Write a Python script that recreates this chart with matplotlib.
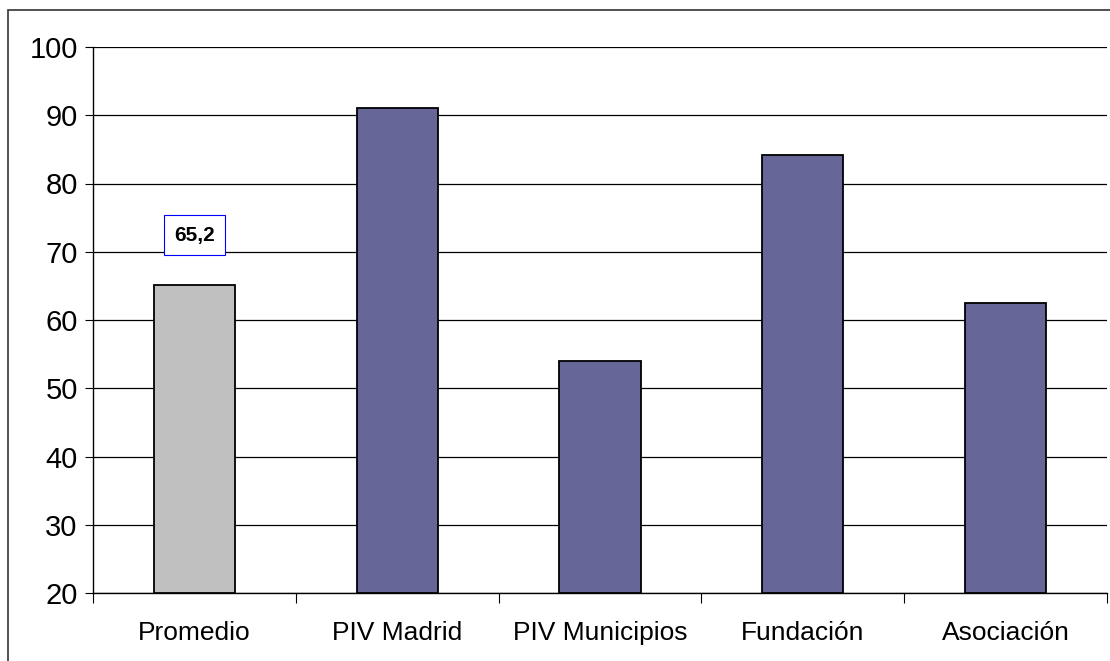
import matplotlib
matplotlib.use("Agg")
import matplotlib.pyplot as plt
from matplotlib.patches import Rectangle

categories = ["Promedio", "PIV Madrid", "PIV Municipios", "Fundación", "Asociación"]
values = [65.2, 91.1, 54.0, 84.2, 62.5]
bar_colors = ["#C0C0C0", "#666699", "#666699", "#666699", "#666699"]
yticks = [20, 30, 40, 50, 60, 70, 80, 90, 100]
label_text = "65,2"

plt.rcParams['font.family'] = ['Liberation Sans', 'DejaVu Sans']

fig = plt.figure(figsize=(11.1, 6.61), dpi=100)
W, H = 1110, 661
ax = fig.add_axes([93 / W, 1 - 593 / H, (1107 - 93) / W, (593 - 47) / H])

# outer chart frame
fig.patches.append(Rectangle((8 / W, -0.1), 1.2, 1 - 10 / H + 0.1,
                             transform=fig.transFigure, fill=False,
                             edgecolor="#333333", linewidth=1.2))

x = list(range(len(categories)))
ax.bar(x, [v - 20 for v in values], bottom=20, width=0.4,
       color=bar_colors, edgecolor="black", linewidth=1.3, zorder=3)

ax.set_xlim(-0.5, len(categories) - 0.5)
ax.set_ylim(20, 100)
ax.set_yticks(yticks)
ax.set_yticklabels([str(t) for t in yticks], fontsize=21)
ax.yaxis.grid(True, color="black", linewidth=0.9, zorder=0)
ax.set_axisbelow(True)

# category labels between boundary ticks
ax.set_xticks([i - 0.5 for i in range(len(categories) + 1)])
ax.set_xticklabels([])
ax.set_xticks(x, minor=True)
ax.set_xticklabels(categories, minor=True, fontsize=19)
ax.tick_params(axis="x", which="minor", length=0, pad=20)
ax.tick_params(axis="x", which="major", length=7, direction="out")
ax.tick_params(axis="y", length=6, direction="out", pad=5)

for side in ["top", "right"]:
    ax.spines[side].set_visible(False)
ax.spines["left"].set_linewidth(1.0)
ax.spines["bottom"].set_linewidth(1.0)

ax.text(0, 72.4, label_text, ha="center", va="center", fontsize=15,
        fontweight="bold", linespacing=1.0,
        bbox=dict(boxstyle="square,pad=0.5", facecolor="white",
                  edgecolor="blue", linewidth=0.8), zorder=4)

fig.savefig("out.png", dpi=100)
